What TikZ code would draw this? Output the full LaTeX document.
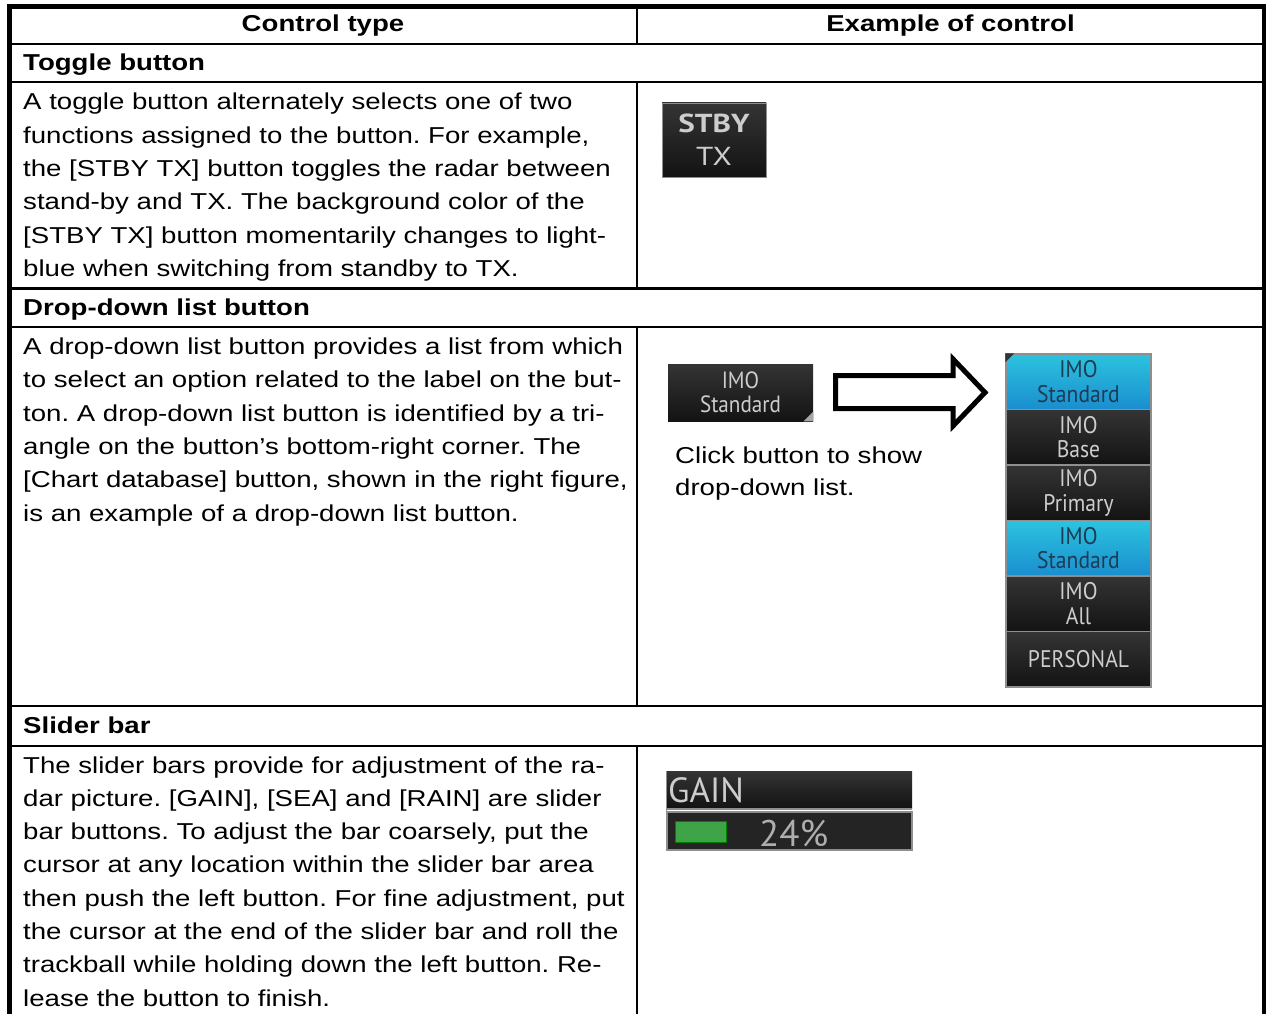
\documentclass[tikz,border=0pt]{standalone}
\usepackage{fontspec}
\setmainfont{Liberation Sans}[FakeStretch=1.2]
\newfontfamily\uifont{PT Sans}
\newfontfamily\uifontn{PT Sans}[FakeStretch=0.9]
\newfontfamily\uifontw{PT Sans}[FakeStretch=1.2]
\definecolor{uitext}{HTML}{CDCDCD}
\definecolor{darktop}{HTML}{343434}
\definecolor{darkbot}{HTML}{131313}
\definecolor{cyantop}{HTML}{2CC3DE}
\definecolor{cyanbot}{HTML}{1A8ECF}
\definecolor{cyantext}{HTML}{1D3B53}
\definecolor{sepgray}{HTML}{8E8E8E}
\definecolor{gaingreen}{HTML}{3FA447}
\frenchspacing
\newcommand\bodypar[1]{\parbox[t]{612pt}{\fontsize{23pt}{33.3pt}\selectfont\raggedright #1}}
\begin{document}
\begin{tikzpicture}[x=1pt,y=-1pt,
  borderline/.style={line width=5pt},
  gridline/.style={line width=2.2pt},
  hdr/.style={anchor=base, inner sep=0pt, font=\fontsize{23pt}{28pt}\selectfont\bfseries},
  sec/.style={anchor=base west, inner sep=0pt, font=\fontsize{23pt}{28pt}\selectfont\bfseries},
  body/.style={anchor=base west, inner sep=0pt},
  darkbtn/.style={draw=sepgray, line width=0.8pt, top color=darktop, bottom color=darkbot,
     text=uitext, inner sep=0pt, align=center},
  listitem/.style={minimum width=145pt, minimum height=55.5pt, inner sep=0pt, align=center,
     draw=sepgray, line width=1.5pt, font=\uifontn\fontsize{24pt}{24.5pt}\selectfont},
  darkitem/.style={listitem, top color=darktop, bottom color=darkbot, text=uitext},
  cyanitem/.style={listitem, top color=cyantop, bottom color=cyanbot, text=cyantext},
  blockarrow/.style={draw=black, line width=5pt, fill=white, line join=miter}
]
\useasboundingbox (0,0) rectangle (1266,1014);
\fill[white] (0,0) rectangle (1266,1014);

% ---------- table rules ----------
\foreach \yy in {44,82,288.5,327,706,746}
  \draw[gridline] (9.5,\yy) -- (1264.5,\yy);
\draw[gridline] (637,6.5) -- (637,44);
\draw[gridline] (637,82) -- (637,288.5);
\draw[gridline] (637,327) -- (637,706);
\draw[gridline] (637,746) -- (637,1014);
\draw[borderline] (9.5,1014) -- (9.5,6.5) -- (1264.5,6.5) -- (1264.5,1014);

% ---------- headers ----------
\node[hdr] (hctl) at (323,32) {Control type};
\node[hdr] (hex) at (950.5,32) {Example of control};

% ---------- toggle ----------
\node[sec] (stog) at (23,70.5) {Toggle button};
\node[body] (btog) at (23,110) {\bodypar{A toggle button alternately selects one of two\\
functions assigned to the button. For example,\\
the {[}STBY TX] button toggles the radar between\\
stand-by and TX. The background color of the\\
{[}STBY TX] button momentarily changes to light-\\
blue when switching from standby to TX.}};
\node[darkbtn, minimum width=104pt, minimum height=74pt,
      font=\uifontw\fontsize{26pt}{33pt}\selectfont] (stby) at (714,140) {{\bfseries STBY}\\TX};

% ---------- drop-down ----------
\node[sec] (sdrop) at (23,315.5) {Drop-down list button};
\node[body] (bdrop) at (23,354.5) {\bodypar{A drop-down list button provides a list from which\\
to select an option related to the label on the but-\\
ton. A drop-down list button is identified by a tri-\\
angle on the button’s bottom-right corner. The\\
{[}Chart database] button, shown in the right figure,\\
is an example of a drop-down list button.}};
\node[darkbtn, draw=none, minimum width=145pt, minimum height=57pt,
      font=\uifontn\fontsize{23.5pt}{24pt}\selectfont] (imo) at (740.5,392.5) {IMO\\Standard};
\fill[gray!70] (imo.south east) -- ++(0,-10) -- ++(-10,10) -- cycle;
\node[body] (click) at (675,463)
  {\parbox[t]{300pt}{\fontsize{23pt}{32pt}\selectfont\raggedright Click button to show\\drop-down list.}};

\node[cyanitem] (li1) at (1078.5,381.75) {IMO\\Standard};
\node[darkitem] (li2) at (1078.5,437.25) {IMO\\Base};
\node[darkitem] (li3) at (1078.5,492.75) {IMO\\Primary};
\node[cyanitem] (li4) at (1078.5,548.25) {IMO\\Standard};
\node[darkitem] (li5) at (1078.5,603.75) {IMO\\All};
\node[darkitem] (li6) at (1078.5,659.25) {PERSONAL};
\fill[black!80] (li1.north west) -- ++(9,0) -- ++(-9,9) -- cycle;

\draw[blockarrow] (835.5,375.5) -- (953,375.5) -- (953,359) -- (985,392.5)
   -- (953,426) -- (953,408.5) -- (835.5,408.5) -- cycle;

% ---------- slider ----------
\node[sec] (sslide) at (23,733.5) {Slider bar};
\node[body] (bslide) at (23,773) {\bodypar{The slider bars provide for adjustment of the ra-\\
dar picture. {[}GAIN], [SEA] and [RAIN] are slider\\
bar buttons. To adjust the bar coarsely, put the\\
cursor at any location within the slider bar area\\
then push the left button. For fine adjustment, put\\
the cursor at the end of the slider bar and roll the\\
trackball while holding down the left button. Re-\\
lease the button to finish.}};

\shade[top color=darktop, bottom color=darkbot] (666,771) rectangle (912,808);
\draw[sepgray, line width=2pt] (666,809) -- (912,809);
\node[draw=sepgray, line width=1.5pt, fill=black!86, minimum width=245pt, minimum height=38pt,
      inner sep=0pt] (gainbar) at (789.5,831) {};
\draw[sepgray, line width=1.5pt] (666.5,771) -- (666.5,812);
\node[fill=gaingreen, draw=green!50!black, line width=0.8pt, minimum width=51pt, minimum height=21pt,
      inner sep=0pt] (gainfill) at (700.5,831.5) {};
\node[anchor=base west, inner sep=0pt, text=uitext, font=\uifont\fontsize{35pt}{35pt}\selectfont]
  (gainlbl) at (668,802) {GAIN};
\node[anchor=base west, inner sep=0pt, text=uitext!85!black, font=\uifont\fontsize{37pt}{37pt}\selectfont]
  (gainval) at (759,846) {24\%};
\end{tikzpicture}
\end{document}
